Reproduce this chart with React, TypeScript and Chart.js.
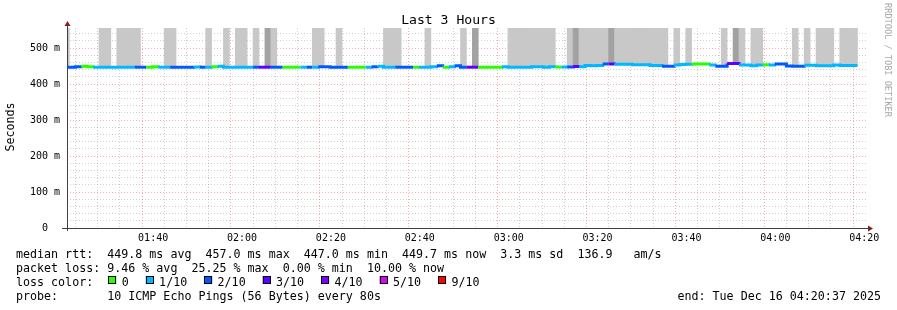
import React, { useEffect, useRef } from "react";
import { Chart, registerables } from "chart.js";

Chart.register(...registerables);

// ---------------- data ----------------
const TITLE = "Last 3 Hours";
const Y_TITLE = "Seconds";
const WATERMARK = "RRDTOOL / TOBI OETIKER";

const VIEW_START = "01:20:37";
const VIEW_END = "04:20:37";
const FIRST_STEP_START = "01:19:49";
const STEP_SECONDS = 80;

// median RTT per 80 s step (ms)
const medianRttMs = [
  447, 447, 448, 450, 448, 447, 447, 447, 447, 447,
  447, 447, 447, 447, 447, 448.5, 447, 447, 447, 447,
  447, 447, 447.5, 447, 447, 448, 449.5, 447, 447, 447,
  447, 447, 447, 447, 447, 447, 447, 447, 447, 447,
  447, 447, 447, 448, 448, 447, 447, 447, 447, 447,
  447, 447, 448, 450, 447, 447, 447, 447, 447, 447,
  447, 447, 448.5, 451, 447, 448, 451, 447, 447, 447,
  447, 447, 447, 447, 448.5, 447, 447, 447, 447, 448.5,
  448.5, 447, 448.5, 447.5, 447.5, 447.5, 449, 448, 452, 451,
  452, 456, 456, 455.5, 455.5, 455.5, 454, 453.5, 453.5, 452,
  452, 450, 450, 453, 454.5, 455, 456, 456, 456, 453,
  450, 450, 457, 457, 453, 453, 451, 453, 453.5, 453,
  456, 456, 450.5, 449.5, 449.5, 452.5, 452.5, 451, 451, 451,
  453, 451.5, 451.5, 451.5,
];

// lost pings out of 10, per step
const lossTenths = [
  2, 2, 2, 0, 0, 1, 1, 1, 1, 1,
  1, 1, 2, 2, 0, 0, 1, 1, 2, 2,
  2, 2, 1, 2, 1, 0, 1, 1, 1, 1,
  1, 1, 2, 3, 3, 2, 2, 0, 0, 0,
  1, 2, 1, 2, 2, 2, 2, 2, 0, 0,
  0, 1, 2, 1, 1, 1, 2, 2, 2, 0,
  1, 1, 1, 2, 0, 1, 2, 2, 3, 3,
  0, 0, 0, 0, 1, 1, 1, 1, 1, 1,
  1, 1, 1, 0, 1, 2, 3, 1, 1, 1,
  1, 2, 3, 1, 1, 1, 1, 1, 1, 1,
  1, 2, 2, 1, 1, 1, 0, 0, 0, 1,
  2, 2, 3, 3, 1, 1, 1, 1, 0, 1,
  2, 2, 2, 2, 2, 1, 1, 1, 1, 1,
  1, 1, 1, 1,
];

// steps whose smoke reaches above the top of the graph
const lightSmokeSteps = [
  0, 6, 7, 9, 10, 11, 12, 17, 18, 24, 27, 29, 30, 32, 35, 42, 43, 46,
  54, 55, 56, 61, 67, 75, 76, 77, 78, 79, 80, 81, 82, 85, 87, 88, 89, 90, 91,
  93, 94, 95, 96, 97, 98, 99, 100, 101, 103, 105, 111, 114, 116, 117, 123, 125,
  127, 128, 129, 131, 132, 133,
];
const darkSmokeSteps = [34, 69, 86, 92, 113];
const SMOKE_TOP_MS = 600;

const Y_MAX_MS = 556;
const Y_MINOR_MS = 20;
const Y_MAJOR_MS = 100;
const X_MINOR_MIN = 5;
const X_MAJOR_MIN = 20;

const legendRtt =
  "median rtt:  449.8 ms avg  457.0 ms max  447.0 ms min  449.7 ms now  3.3 ms sd  136.9   am/s";
const legendLoss = "packet loss: 9.46 % avg  25.25 % max  0.00 % min  10.00 % now";
const legendLossTitle = "loss color:";
const lossLegendLevels = [0, 1, 2, 3, 4, 5, 9];
const lossLegendLabels = ["0", "1/10", "2/10", "3/10", "4/10", "5/10", "9/10"];
const lossLegendColors = ["#26ff00", "#00b8ff", "#0059ff", "#5e00ff", "#7e00ff", "#dd00ff", "#ff0000"];
const legendProbe = "probe:       10 ICMP Echo Pings (56 Bytes) every 80s";
const legendEnd = "end: Tue Dec 16 04:20:37 2025";

// ---------------- styles ----------------
const MONO = "'DejaVu Sans Mono', monospace";
const SMOKE_LIGHT = "#c8c8c8";
const SMOKE_DARK = "#a2a2a2";
const GRID_MINOR = "rgba(140,140,140,0.42)";
const GRID_MAJOR = "rgba(235,90,90,0.5)";
const AXIS_COLOR = "#404040";
const ARROW_COLOR = "#8b1c1c";

const toSec = (s: string) => {
  const [h, m, x] = s.split(":").map(Number);
  return h * 3600 + m * 60 + x;
};
const pad2 = (n: number) => String(n).padStart(2, "0");

const lossColor = (l: number) => {
  let c = lossLegendColors[0];
  lossLegendLevels.forEach((lv, i) => {
    if (l >= lv) c = lossLegendColors[i];
  });
  return c;
};

export default function App() {
  const ref = useRef<HTMLCanvasElement | null>(null);

  useEffect(() => {
    const canvas = ref.current;
    if (!canvas) return;
    const t0 = toSec(FIRST_STEP_START);
    const xMin = toSec(VIEW_START);
    const xMax = toSec(VIEW_END);

    const stepStart = (i: number) => t0 + i * STEP_SECONDS;

    const lineData = medianRttMs.map((m, i) => ({ x: stepStart(i), y: m }));
    lineData.push({ x: stepStart(medianRttMs.length), y: medianRttMs[medianRttMs.length - 1] });

    const smokeIdx = [...lightSmokeSteps, ...darkSmokeSteps].sort((a, b) => a - b);
    const smokeData = smokeIdx.map((i) => ({
      x: stepStart(i) + STEP_SECONDS / 2,
      y: [medianRttMs[i], SMOKE_TOP_MS],
    }));
    const smokeColors = smokeIdx.map((i) => (darkSmokeSteps.includes(i) ? SMOKE_DARK : SMOKE_LIGHT));

    const decor = {
      id: "decor",
      afterDraw(chart: any) {
        const ctx = chart.ctx as CanvasRenderingContext2D;
        const a = chart.chartArea;
        ctx.save();
        // axes
        ctx.strokeStyle = AXIS_COLOR;
        ctx.lineWidth = 1;
        ctx.beginPath();
        ctx.moveTo(a.left + 0.5, a.bottom + 3);
        ctx.lineTo(a.left + 0.5, a.top - 4);
        ctx.moveTo(a.left - 5, a.bottom + 0.5);
        ctx.lineTo(a.right + 3, a.bottom + 0.5);
        ctx.stroke();
        // arrows
        ctx.fillStyle = ARROW_COLOR;
        ctx.beginPath();
        ctx.moveTo(a.left + 0.5, a.top - 7);
        ctx.lineTo(a.left - 2.5, a.top - 2);
        ctx.lineTo(a.left + 3.5, a.top - 2);
        ctx.closePath();
        ctx.fill();
        ctx.beginPath();
        ctx.moveTo(a.right + 6, a.bottom + 0.5);
        ctx.lineTo(a.right + 1, a.bottom - 2.5);
        ctx.lineTo(a.right + 1, a.bottom + 3.5);
        ctx.closePath();
        ctx.fill();

        ctx.fillStyle = "#000";
        // title
        ctx.font = `13.1px ${MONO}`;
        ctx.textAlign = "center";
        ctx.textBaseline = "alphabetic";
        ctx.fillText(TITLE, 448.5, 24);

        // y title
        ctx.save();
        ctx.font = `11.66px ${MONO}`;
        ctx.translate(11, 127);
        ctx.rotate(-Math.PI / 2);
        ctx.textAlign = "center";
        ctx.textBaseline = "middle";
        ctx.fillText(Y_TITLE, 0, 0);
        ctx.restore();

        // watermark
        ctx.save();
        ctx.font = `8.6px ${MONO}`;
        ctx.fillStyle = "#a8a8a8";
        ctx.translate(887, 60);
        ctx.rotate(Math.PI / 2);
        ctx.textAlign = "center";
        ctx.textBaseline = "middle";
        ctx.fillText(WATERMARK, 0, 0);
        ctx.restore();

        // legend
        ctx.font = `11.66px ${MONO}`;
        ctx.textAlign = "left";
        ctx.textBaseline = "alphabetic";
        ctx.fillStyle = "#000";
        ctx.fillText(legendRtt, 16, 258);
        ctx.fillText(legendLoss, 16, 272);
        ctx.fillText(legendLossTitle, 16, 286);
        let x = 108.3;
        lossLegendLabels.forEach((lab, i) => {
          ctx.fillStyle = lossLegendColors[i];
          ctx.fillRect(x, 276, 8, 8);
          ctx.strokeStyle = "#000";
          ctx.lineWidth = 1;
          ctx.strokeRect(Math.round(x) + 0.5, 276.5, 7, 7);
          ctx.fillStyle = "#000";
          ctx.fillText(lab, x + 13.4, 286);
          x += 13.4 + ctx.measureText(lab).width + 17;
        });
        ctx.fillText(legendProbe, 16, 300);
        ctx.textAlign = "right";
        ctx.fillText(legendEnd, 881, 300);
        ctx.restore();
      },
    };

    const stepTicks = (lo: number, hi: number, step: number) => {
      const out: { value: number }[] = [];
      for (let v = Math.ceil(lo / step) * step; v <= hi; v += step) out.push({ value: v });
      return out;
    };

    const chart = new Chart(canvas, {
      type: "bar",
      data: {
        datasets: [
          {
            type: "line",
            data: lineData,
            stepped: "before",
            borderWidth: 3,
            borderColor: lossColor(lossTenths[0]),
            borderCapStyle: "butt",
            borderJoinStyle: "miter",
            pointRadius: 0,
            fill: false,
            order: 0,
            segment: {
              borderColor: (c: any) => lossColor(lossTenths[Math.min(c.p0DataIndex, lossTenths.length - 1)]),
            },
          } as any,
          {
            type: "bar",
            data: smokeData as any,
            backgroundColor: smokeColors,
            borderWidth: 0,
            barPercentage: 1,
            categoryPercentage: 1,
            clip: 0,
            order: 1,
          } as any,
        ],
      },
      options: {
        responsive: false,
        animation: false,
        events: [],
        layout: { padding: { left: 0, right: 30, top: 28, bottom: 0 } },
        plugins: { legend: { display: false }, tooltip: { enabled: false }, title: { display: false } },
        scales: {
          x: {
            type: "linear",
            min: xMin,
            max: xMax,
            offset: false,
            z: 1,
            afterFit: (s: any) => {
              s.height = 82;
            },
            afterBuildTicks: (s: any) => {
              s.ticks = stepTicks(s.min, s.max, X_MINOR_MIN * 60);
            },
            grid: {
              color: (c: any) => (c.tick && c.tick.value % (X_MAJOR_MIN * 60) === 0 ? GRID_MAJOR : GRID_MINOR),
              lineWidth: 1,
              drawTicks: false,
            },
            border: { display: false, dash: [1, 2] },
            ticks: {
              autoSkip: false,
              maxRotation: 0,
              minRotation: 0,
              padding: 4,
              color: "#000",
              font: { family: MONO, size: 10 },
              callback: (v: any) => {
                const n = Number(v);
                if (n % (X_MAJOR_MIN * 60) !== 0) return "";
                return `${pad2(Math.floor(n / 3600) % 24)}:${pad2(Math.floor((n % 3600) / 60))}`;
              },
            },
          },
          y: {
            type: "linear",
            min: 0,
            max: Y_MAX_MS,
            z: 1,
            afterFit: (s: any) => {
              s.width = 67;
            },
            afterBuildTicks: (s: any) => {
              s.ticks = stepTicks(s.min, s.max, Y_MINOR_MS);
            },
            grid: {
              color: (c: any) => (c.tick && c.tick.value % Y_MAJOR_MS === 0 ? GRID_MAJOR : GRID_MINOR),
              lineWidth: 1,
              drawTicks: false,
            },
            border: { display: false, dash: [1, 2] },
            ticks: {
              autoSkip: false,
              padding: 7,
              color: "#000",
              font: { family: MONO, size: 10 },
              callback: (v: any) => {
                const n = Number(v);
                if (n % Y_MAJOR_MS !== 0) return "";
                return n === 0 ? "0  " : `${n} m`;
              },
            },
          },
        },
      },
      plugins: [decor],
    });
    return () => chart.destroy();
  }, []);

  return (
    <div style={{ position: "absolute", left: 0, top: 0, width: 897, height: 310, background: "#fff" }}>
      <canvas ref={ref} width={897} height={310} style={{ width: 897, height: 310, display: "block" }} />
    </div>
  );
}
